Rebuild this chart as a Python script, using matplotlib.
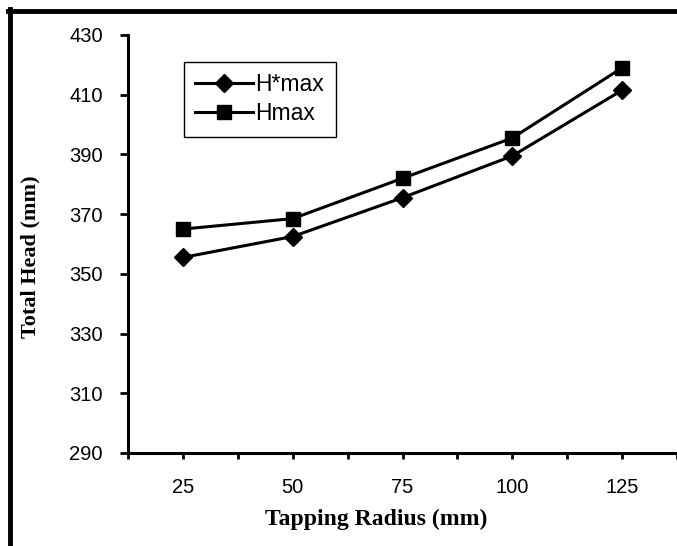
import matplotlib
matplotlib.use("Agg")
import matplotlib.pyplot as plt
from matplotlib.lines import Line2D

# data
radius = [25, 50, 75, 100, 125]
h_star_max = [355.5, 362.5, 375.5, 389.5, 411.5]
h_max = [365, 368.5, 382, 395.5, 419]

y_ticks = [290, 310, 330, 350, 370, 390, 410, 430]
x_ticks = [12.5, 25, 37.5, 50, 62.5, 75, 87.5, 100, 112.5, 125, 137.5]

W, H = 677, 546
fig = plt.figure(figsize=(W / 100, H / 100), dpi=100)
ax = fig.add_axes([128 / W, 1 - 453 / H, 1 - 128 / W, (453 - 35) / H])

ax.plot(radius, h_star_max, "-", color="black", lw=2.2, marker="D", ms=9.5,
        label="H*max")
ax.plot(radius, h_max, "-", color="black", lw=2.2, marker="s", ms=10.5,
        label="Hmax")

ax.set_xlim(12.5, 137.3)
ax.set_ylim(290, 430)
ax.set_yticks(y_ticks)
ax.set_xticks(x_ticks)
ax.set_xticklabels([f"{int(v)}" if v % 25 == 0 else "" for v in x_ticks])

for side in ("top", "right"):
    ax.spines[side].set_visible(False)
for side in ("left", "bottom"):
    ax.spines[side].set_linewidth(2.2)

ax.tick_params(axis="y", direction="out", length=6, width=2, pad=12,
               labelsize=14.5)
ax.tick_params(axis="x", direction="out", length=4, width=2, pad=14,
               labelsize=14.5)
for lab in ax.get_xticklabels() + ax.get_yticklabels():
    lab.set_fontfamily("Liberation Sans")

ax.set_xlabel("Tapping Radius (mm)", fontfamily="Liberation Serif",
              fontweight="bold", fontsize=17)
ax.set_ylabel("Total Head (mm)", fontfamily="Liberation Serif",
              fontweight="bold", fontsize=16)
ax.xaxis.set_label_coords((376.5 - 128) / 549, -(519 - 453) / 418)
ax.xaxis.label.set_verticalalignment("center")
ax.yaxis.set_label_coords((30.5 - 128) / 549, (453 - 257) / 418)
ax.yaxis.label.set_verticalalignment("center")

leg = ax.legend(loc="upper left", bbox_to_anchor=(184 / W, 1 - 62 / H),
                bbox_transform=fig.transFigure, fancybox=False,
                edgecolor="black", framealpha=1, handlelength=2.5,
                handletextpad=0.12, borderpad=0.5, labelspacing=0.25,
                borderaxespad=0, prop={"family": "Liberation Sans", "size": 16.5})
leg.get_frame().set_linewidth(1)

# figure frame (left and top edges visible, rest cropped)
fig.add_artist(Line2D([9.5 / W, 9.5 / W], [0, 1 - 9 / H], color="black",
                      lw=3.5, transform=fig.transFigure))
fig.add_artist(Line2D([7.7 / W, 1], [1 - 10.5 / H, 1 - 10.5 / H],
                      color="black", lw=3.5, transform=fig.transFigure))

fig.savefig("out.png", dpi=100)
